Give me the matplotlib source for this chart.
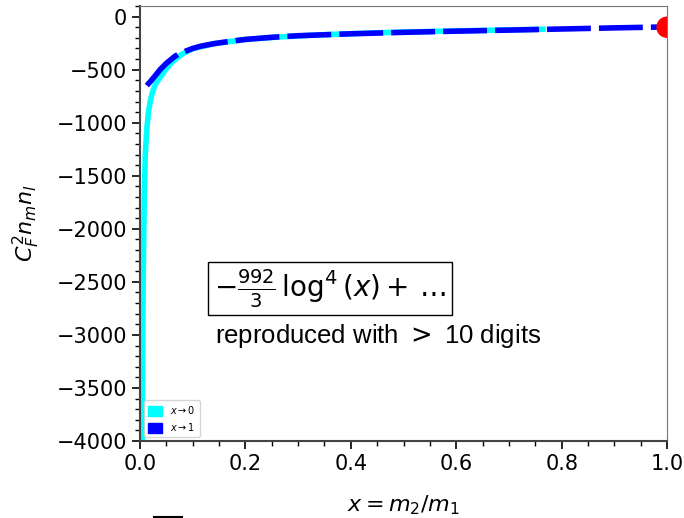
import numpy as np
import matplotlib
matplotlib.use("Agg")
import matplotlib.pyplot as plt
import matplotlib.patches as mpatches
from matplotlib.lines import Line2D

# x -> 0 expansion (cyan)
x0 = [0.003, 0.004, 0.005, 0.006, 0.008, 0.010, 0.013, 0.016, 0.020, 0.025,
      0.030, 0.040, 0.050, 0.060, 0.080, 0.100, 0.140, 0.200, 0.270, 0.350,
      0.450, 0.550, 0.650, 0.770]
y0 = [-5200, -4000, -3100, -2500, -1700, -1300, -1050, -900, -780, -690,
      -630, -560, -490, -430, -352, -302, -255, -215, -190, -170,
      -152, -140, -130, -118]

# x -> 1 expansion (blue, dashed)
x1 = [0.013, 0.016, 0.020, 0.030, 0.038, 0.050, 0.066, 0.076, 0.100, 0.114,
      0.140, 0.171, 0.200, 0.250, 0.300, 0.400, 0.500, 0.600, 0.750, 0.900,
      1.000]
y1 = [-650, -632, -610, -550, -500, -440, -375, -345, -300, -280,
      -255, -233, -215, -195, -180, -162, -148, -137, -122, -106,
      -97]

pt_x = [1.0]
pt_y = [-100]

fig = plt.figure(figsize=(6.84, 5.18), dpi=100)
ax = fig.add_axes([0.2047, 0.1486, 0.7705, 0.8398])

ax.plot(x0, y0, color="cyan", lw=4, solid_capstyle="butt")
ax.plot(x1, y1, color="blue", lw=4, dashes=(7.9, 1.45))

# red point, drawn as a patch so it gets clipped by the axes
ax.set_xlim(0, 1)
ax.set_ylim(-4000, 100)
r_px = 10
w = 2 * r_px / (0.7705 * 684) * 1.0
h = 2 * r_px / (0.8398 * 518) * 4100
for px, py in zip(pt_x, pt_y):
    ax.add_patch(mpatches.Ellipse((px, py), w, h, color="red", zorder=5))

ax.set_xticks([0.0, 0.2, 0.4, 0.6, 0.8, 1.0])
ax.set_yticks(np.arange(-4000, 1, 500))
ax.set_xticks(np.arange(0, 1.001, 0.05), minor=True)
ax.set_yticks(np.arange(-4000, 101, 100), minor=True)
ax.tick_params(which="major", labelsize=15, length=6, width=1.2)
ax.tick_params(which="minor", length=3.5, width=1)

for s in ["left", "bottom"]:
    ax.spines[s].set_linewidth(1.5)
    ax.spines[s].set_color("#444444")
for s in ["right", "top"]:
    ax.spines[s].set_color("#777777")

ax.set_xlabel("$x = m_2/m_1$", fontsize=16, labelpad=14)
ax.set_ylabel("$C_F^2 n_m n_l$", fontsize=16, labelpad=10)

ax.text(0.14, -2566, r"$-\frac{992}{3}\,\log^4(x)+\dots$", fontsize=20,
        ha="left", va="center",
        bbox=dict(boxstyle="square,pad=0.2", fc="white", ec="black", lw=1))
ax.text(0.142, -3010, "reproduced with $>$ 10 digits", fontsize=18.5,
        family="Liberation Sans", ha="left", va="center")

handles = [mpatches.Patch(color="cyan", label=r"$x\to0$"),
           mpatches.Patch(color="blue", label=r"$x\to1$")]
ax.legend(handles=handles, loc="lower left", fontsize=7, handlelength=1.5,
          handleheight=1.2, borderaxespad=0.4)

fig.add_artist(Line2D([154 / 684, 182 / 684], [1.5 / 518, 1.5 / 518],
                      color="black", lw=1.5))

fig.savefig("out.png", dpi=100)
